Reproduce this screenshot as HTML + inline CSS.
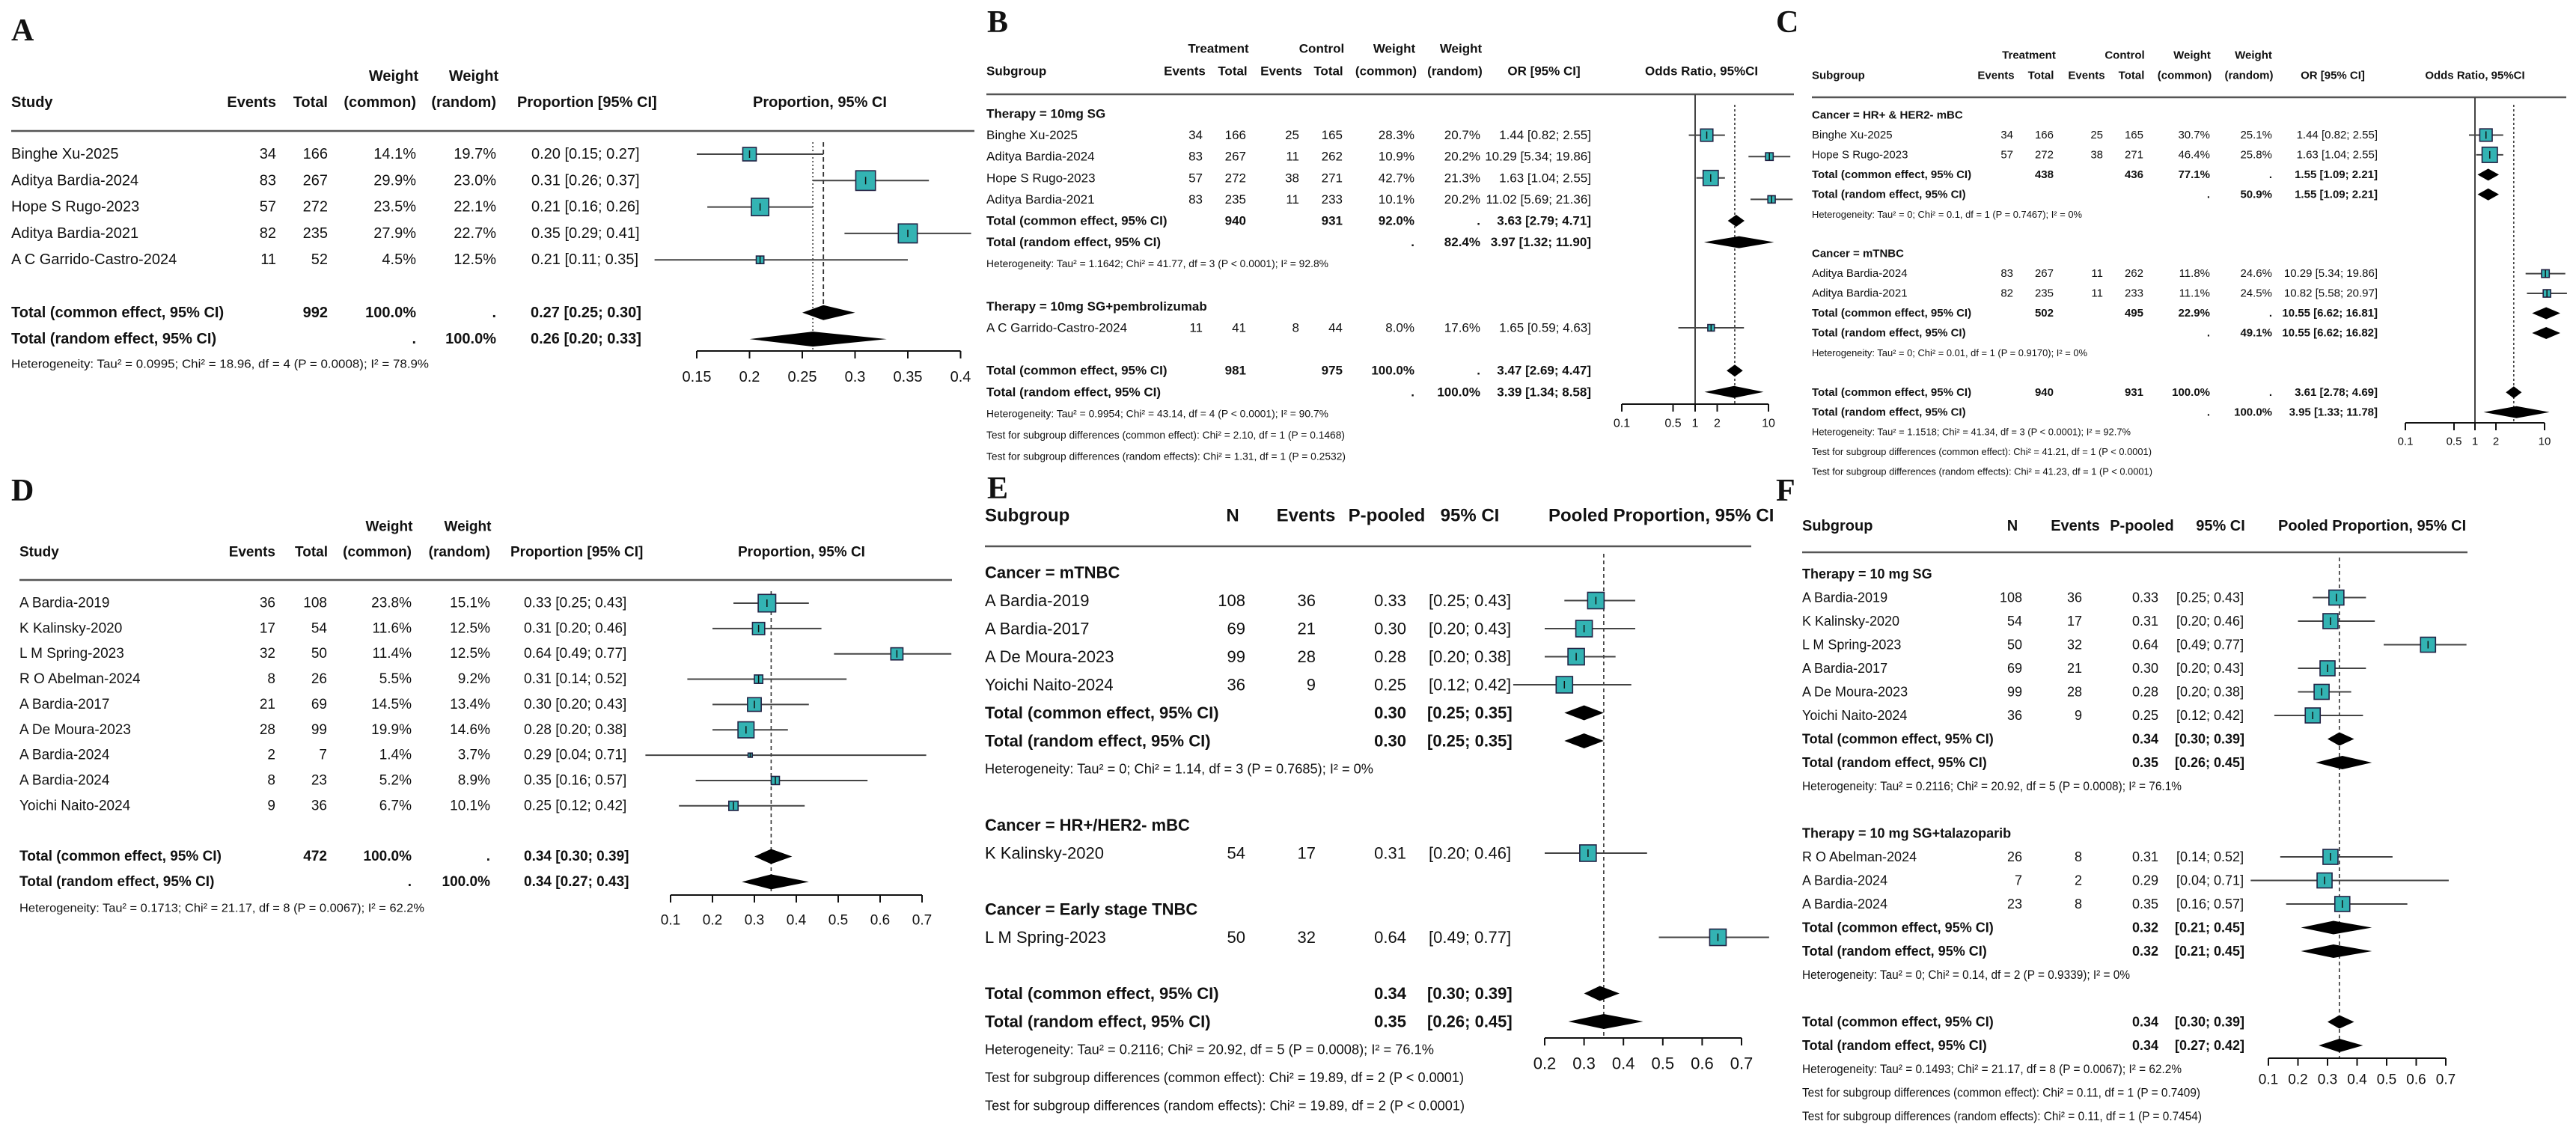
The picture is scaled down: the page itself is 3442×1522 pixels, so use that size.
<!DOCTYPE html>
<html><head><meta charset="utf-8"><title>Forest plots A-F</title>
<style>
html,body{margin:0;padding:0;background:#fff;}
svg{display:block;font-family:"Liberation Sans",Arial,sans-serif;fill:#111;}
</style></head>
<body>
<svg id="fig" width="3442" height="1522" viewBox="0 0 3442 1522" xmlns="http://www.w3.org/2000/svg">
<rect x="0" y="0" width="3442" height="1522" fill="#fff"/>
</svg>
<script>
// ---------- Panel A data ----------
const aStudy=['Binghe Xu-2025','Aditya Bardia-2024','Hope S Rugo-2023','Aditya Bardia-2021','A C Garrido-Castro-2024'];
const aEvents=[34,83,57,82,11];
const aTotal=[166,267,272,235,52];
const aWCommon=[14.1,29.9,23.5,27.9,4.5];
const aWRandom=[19.7,23.0,22.1,22.7,12.5];
const aEst=[0.20,0.31,0.21,0.35,0.21];
const aLo=[0.15,0.26,0.16,0.29,0.11];
const aHi=[0.27,0.37,0.26,0.41,0.35];
const aPoolEst=[0.27,0.26];
const aPoolLo=[0.25,0.20];
const aPoolHi=[0.30,0.33];
const aTicks=[0.15,0.2,0.25,0.3,0.35,0.4];
const aTickLabels=['0.15','0.2','0.25','0.3','0.35','0.4'];
// ---------- Panel B data ----------
const bStudy=['Binghe Xu-2025','Aditya Bardia-2024','Hope S Rugo-2023','Aditya Bardia-2021','A C Garrido-Castro-2024'];
const bTEvents=[34,83,57,83,11];
const bTTotal=[166,267,272,235,41];
const bCEvents=[25,11,38,11,8];
const bCTotal=[165,262,271,233,44];
const bWCommon=[28.3,10.9,42.7,10.1,8.0];
const bWRandom=[20.7,20.2,21.3,20.2,17.6];
const bOR=[1.44,10.29,1.63,11.02,1.65];
const bLo=[0.82,5.34,1.04,5.69,0.59];
const bHi=[2.55,19.86,2.55,21.36,4.63];
const bSubOR=[3.63,3.97];
const bSubLo=[2.79,1.32];
const bSubHi=[4.71,11.90];
const bTotOR=[3.47,3.39];
const bTotLo=[2.69,1.34];
const bTotHi=[4.47,8.58];
const orTicks=[0.1,0.5,1,2,10];
const orTickLabels=['0.1','0.5','1','2','10'];
// ---------- Panel C data ----------
const cStudy=['Binghe Xu-2025','Hope S Rugo-2023','Aditya Bardia-2024','Aditya Bardia-2021'];
const cTEvents=[34,57,83,82];
const cTTotal=[166,272,267,235];
const cCEvents=[25,38,11,11];
const cCTotal=[165,271,262,233];
const cWCommon=[30.7,46.4,11.8,11.1];
const cWRandom=[25.1,25.8,24.6,24.5];
const cOR=[1.44,1.63,10.29,10.82];
const cLo=[0.82,1.04,5.34,5.58];
const cHi=[2.55,2.55,19.86,20.97];
const cSubCommonOR=[1.55,10.55];
const cSubCommonLo=[1.09,6.62];
const cSubCommonHi=[2.21,16.81];
const cSubRandomOR=[1.55,10.55];
const cSubRandomLo=[1.09,6.62];
const cSubRandomHi=[2.21,16.82];
const cTotOR=[3.61,3.95];
const cTotLo=[2.78,1.33];
const cTotHi=[4.69,11.78];
// ---------- Panel D data ----------
const dStudy=['A Bardia-2019','K Kalinsky-2020','L M Spring-2023','R O Abelman-2024','A Bardia-2017','A De Moura-2023','A Bardia-2024','A Bardia-2024','Yoichi Naito-2024'];
const dEvents=[36,17,32,8,21,28,2,8,9];
const dTotal=[108,54,50,26,69,99,7,23,36];
const dWCommon=[23.8,11.6,11.4,5.5,14.5,19.9,1.4,5.2,6.7];
const dWRandom=[15.1,12.5,12.5,9.2,13.4,14.6,3.7,8.9,10.1];
const dEst=[0.33,0.31,0.64,0.31,0.30,0.28,0.29,0.35,0.25];
const dLo=[0.25,0.20,0.49,0.14,0.20,0.20,0.04,0.16,0.12];
const dHi=[0.43,0.46,0.77,0.52,0.43,0.38,0.71,0.57,0.42];
const dPoolEst=[0.34,0.34];
const dPoolLo=[0.30,0.27];
const dPoolHi=[0.39,0.43];
const pTicks=[0.1,0.2,0.3,0.4,0.5,0.6,0.7];
const pTickLabels=['0.1','0.2','0.3','0.4','0.5','0.6','0.7'];
// ---------- Panel E data ----------
const eGroups=['Cancer = mTNBC','Cancer = HR+/HER2- mBC','Cancer = Early stage TNBC'];
const eStudy=['A Bardia-2019','A Bardia-2017','A De Moura-2023','Yoichi Naito-2024','K Kalinsky-2020','L M Spring-2023'];
const eGroup=[0,0,0,0,1,2];
const eN=[108,69,99,36,54,50];
const eEvents=[36,21,28,9,17,32];
const eP=[0.33,0.30,0.28,0.25,0.31,0.64];
const eLo=[0.25,0.20,0.20,0.12,0.20,0.49];
const eHi=[0.43,0.43,0.38,0.42,0.46,0.77];
const eSubEst=[0.30,0.30];
const eSubLo=[0.25,0.25];
const eSubHi=[0.35,0.35];
const eTotEst=[0.34,0.35];
const eTotLo=[0.30,0.26];
const eTotHi=[0.39,0.45];
const eTicks=[0.2,0.3,0.4,0.5,0.6,0.7];
const eTickLabels=['0.2','0.3','0.4','0.5','0.6','0.7'];
// ---------- Panel F data ----------
const fGroups=['Therapy = 10 mg SG','Therapy = 10 mg SG+talazoparib'];
const fStudy=['A Bardia-2019','K Kalinsky-2020','L M Spring-2023','A Bardia-2017','A De Moura-2023','Yoichi Naito-2024','R O Abelman-2024','A Bardia-2024','A Bardia-2024'];
const fGroup=[0,0,0,0,0,0,1,1,1];
const fN=[108,54,50,69,99,36,26,7,23];
const fEvents=[36,17,32,21,28,9,8,2,8];
const fP=[0.33,0.31,0.64,0.30,0.28,0.25,0.31,0.29,0.35];
const fLo=[0.25,0.20,0.49,0.20,0.20,0.12,0.14,0.04,0.16];
const fHi=[0.43,0.46,0.77,0.43,0.38,0.42,0.52,0.71,0.57];
const fSubCommonEst=[0.34,0.32];
const fSubCommonLo=[0.30,0.21];
const fSubCommonHi=[0.39,0.45];
const fSubRandomEst=[0.35,0.32];
const fSubRandomLo=[0.26,0.21];
const fSubRandomHi=[0.45,0.45];
const fTotEst=[0.34,0.34];
const fTotLo=[0.30,0.27];
const fTotHi=[0.39,0.42];

// ---------- helpers ----------
const NS='http://www.w3.org/2000/svg';
const svg=document.getElementById('fig');
const TEAL='#33b3b3';
function grp(name){
  const g=document.createElementNS(NS,'g');
  
  
  svg.appendChild(g);return g;
}
function tx(g,x,y,s,size,bold,anchor,name,len,serif){
  const el=document.createElementNS(NS,'text');
  el.setAttribute('x',x);el.setAttribute('y',y);el.setAttribute('font-size',size);
  if(bold)el.setAttribute('font-weight','bold');
  if(serif)el.setAttribute('font-family','"Liberation Serif",serif');
  el.setAttribute('text-anchor',anchor||'start');
  el.setAttribute('dominant-baseline','central');
  if(len){el.setAttribute('textLength',len);el.setAttribute('lengthAdjust','spacingAndGlyphs');}
  el.textContent=s;
  
  
  g.appendChild(el);return el;
}
function ln(g,x1,y1,x2,y2,col,w,dash,name){
  const el=document.createElementNS(NS,'line');
  el.setAttribute('x1',x1);el.setAttribute('y1',y1);el.setAttribute('x2',x2);el.setAttribute('y2',y2);
  el.setAttribute('stroke',col);el.setAttribute('stroke-width',w);
  if(dash)el.setAttribute('stroke-dasharray',dash);
  
  
  g.appendChild(el);return el;
}
function sq(g,cx,cy,side,name){
  const el=document.createElementNS(NS,'rect');
  el.setAttribute('x',cx-side/2);el.setAttribute('y',cy-side/2);
  el.setAttribute('width',side);el.setAttribute('height',side);
  el.setAttribute('fill',TEAL);el.setAttribute('stroke','#224');el.setAttribute('stroke-width',1.6);
  
  
  g.appendChild(el);
  const t=ln(g,cx,cy-Math.min(5,side/2),cx,cy+Math.min(5,side/2),'#111',1.5,null,name+'-estimate-tick');
  return el;
}
function dia(g,xl,xe,xh,y,h,name){
  const el=document.createElementNS(NS,'polygon');
  el.setAttribute('points',`${xl},${y} ${xe},${y-h} ${xh},${y} ${xe},${y+h}`);
  el.setAttribute('fill','#000');
  
  
  g.appendChild(el);return el;
}
function axis(g,xf,ticks,labels,y,ly,size,name){
  ln(g,xf(ticks[0]),y,xf(ticks[ticks.length-1]),y,'#111',2,null,name+'-line');
  ticks.forEach((t,i)=>{
    ln(g,xf(t),y,xf(t),y+10,'#111',2,null,name+'-tick');
    tx(g,xf(t),ly,labels[i],size,false,'middle',name+'-tick-label');
  });
}
const f2=v=>v.toFixed(2);
const pct=v=>v.toFixed(1)+'%';
const ciT=(e,l,h)=>`${f2(e)} [${f2(l)}; ${f2(h)}]`;
const brT=(l,h)=>`[${f2(l)}; ${f2(h)}]`;

// ---------- Panel A ----------
(function(){
  const g=grp('panel-a');
  const yA=i=>206+i*35.3;
  const xA=v=>931+(v-0.15)*1410;
  const S=20;
  tx(g,15,41,'A',42,true,'start','panel-label-a',null,true);
  tx(g,526,102,'Weight',S,true,'middle','header-weight-common');
  tx(g,633,102,'Weight',S,true,'middle','header-weight-random');
  tx(g,15,137,'Study',S,true,'start','header-study');
  tx(g,369,137,'Events',S,true,'end','header-events');
  tx(g,438,137,'Total',S,true,'end','header-total');
  tx(g,556,137,'(common)',S,true,'end','header-common');
  tx(g,663,137,'(random)',S,true,'end','header-random');
  tx(g,691,137,'Proportion [95% CI]',S,true,'start','header-proportion-ci');
  tx(g,1006,137,'Proportion, 95% CI',S,true,'start','header-plot-title');
  ln(g,15,175,1302,175,'#555',2.5,null,'header-rule');
  ln(g,xA(aPoolEst[1]),190,xA(aPoolEst[1]),469,'#333',1.5,'2,3','random-effect-line');
  ln(g,xA(aPoolEst[0]),190,xA(aPoolEst[0]),418,'#333',1.8,'6,4','common-effect-line');
  aStudy.forEach((s,i)=>{
    const y=yA(i);
    tx(g,15,y,s,S,false,'start','study-name');
    tx(g,369,y,String(aEvents[i]),S,false,'end','events');
    tx(g,438,y,String(aTotal[i]),S,false,'end','total');
    tx(g,556,y,pct(aWCommon[i]),S,false,'end','weight-common');
    tx(g,663,y,pct(aWRandom[i]),S,false,'end','weight-random');
    tx(g,710,y,ciT(aEst[i],aLo[i],aHi[i]),S,false,'start','proportion-ci');
    ln(g,xA(aLo[i]),y,xA(aHi[i]),y,'#444',2,null,'ci-line');
    sq(g,xA(aEst[i]),y,4.8*Math.sqrt(aWCommon[i]),'study-square');
  });
  const totN=aTotal.reduce((a,b)=>a+b,0);
  let y=yA(6);
  tx(g,15,y,'Total (common effect, 95% CI)',S,true,'start','total-common-label');
  tx(g,438,y,String(totN),S,true,'end','total-common-n');
  tx(g,556,y,'100.0%',S,true,'end','total-common-weight');
  tx(g,663,y,'.',S,true,'end','dot');
  tx(g,709,y,ciT(aPoolEst[0],aPoolLo[0],aPoolHi[0]),S,true,'start','total-common-ci');
  dia(g,xA(aPoolLo[0]),xA(aPoolEst[0]),xA(aPoolHi[0]),y,10,'common-diamond');
  y=yA(7);
  tx(g,15,y,'Total (random effect, 95% CI)',S,true,'start','total-random-label');
  tx(g,556,y,'.',S,true,'end','dot');
  tx(g,663,y,'100.0%',S,true,'end','total-random-weight');
  tx(g,709,y,ciT(aPoolEst[1],aPoolLo[1],aPoolHi[1]),S,true,'start','total-random-ci');
  dia(g,xA(aPoolLo[1]),xA(aPoolEst[1]),xA(aPoolHi[1]),y,10,'random-diamond');
  tx(g,15,487,'Heterogeneity: Tau² = 0.0995; Chi² = 18.96, df = 4 (P = 0.0008); I² = 78.9%',16,false,'start','heterogeneity-text',558);
  axis(g,xA,aTicks,aTickLabels,469,504,20,'x-axis-a');
})();

// ---------- Panel B ----------
(function(){
  const g=grp('panel-b');
  const yB=i=>152+i*28.6;
  const xB=v=>2265+Math.log10(v)*98;
  const S=17;
  tx(g,1319,30,'B',42,true,'start','panel-label-b',null,true);
  tx(g,1628,65,'Treatment',S,true,'middle','header-treatment');
  tx(g,1766,65,'Control',S,true,'middle','header-control');
  tx(g,1863,65,'Weight',S,true,'middle','header-weight-common');
  tx(g,1952,65,'Weight',S,true,'middle','header-weight-random');
  tx(g,1318,95,'Subgroup',S,true,'start','header-subgroup');
  tx(g,1583,95,'Events',S,true,'middle','header-t-events');
  tx(g,1647,95,'Total',S,true,'middle','header-t-total');
  tx(g,1712,95,'Events',S,true,'middle','header-c-events');
  tx(g,1775,95,'Total',S,true,'middle','header-c-total');
  tx(g,1852,95,'(common)',S,true,'middle','header-common');
  tx(g,1944,95,'(random)',S,true,'middle','header-random');
  tx(g,2063,95,'OR [95% CI]',S,true,'middle','header-or-ci');
  tx(g,2198,95,'Odds Ratio, 95%CI',S,true,'start','header-plot-title');
  ln(g,1318,126,2397,126,'#555',2.5,null,'header-rule');
  ln(g,xB(1),126,xB(1),540,'#444',2,null,'null-line');
  ln(g,xB(bTotOR[0]),140,xB(bTotOR[0]),540,'#333',1.6,'3,3','pooled-line');
  const orT=(e,l,h)=>`${f2(e)} [${f2(l)}; ${f2(h)}]`;
  function study(i,r){
    const y=yB(r);
    tx(g,1318,y,bStudy[i],S,false,'start','study-name');
    tx(g,1607,y,String(bTEvents[i]),S,false,'end','t-events');
    tx(g,1665,y,String(bTTotal[i]),S,false,'end','t-total');
    tx(g,1736,y,String(bCEvents[i]),S,false,'end','c-events');
    tx(g,1794,y,String(bCTotal[i]),S,false,'end','c-total');
    tx(g,1890,y,pct(bWCommon[i]),S,false,'end','weight-common');
    tx(g,1978,y,pct(bWRandom[i]),S,false,'end','weight-random');
    tx(g,2126,y,orT(bOR[i],bLo[i],bHi[i]),S,false,'end','or-ci');
    ln(g,xB(bLo[i]),y,xB(bHi[i]),y,'#444',2,null,'ci-line');
    sq(g,xB(bOR[i]),y,3.1*Math.sqrt(bWCommon[i]),'study-square');
  }
  function totRow(r,label,tt,ct,wc,wr,e,l,h,h2,name){
    const y=yB(r);
    tx(g,1318,y,label,S,true,'start',name+'-label');
    if(tt)tx(g,1665,y,tt,S,true,'end',name+'-t-total');
    if(ct)tx(g,1794,y,ct,S,true,'end',name+'-c-total');
    tx(g,1890,y,wc,S,true,'end',name+'-weight-common');
    tx(g,1978,y,wr,S,true,'end',name+'-weight-random');
    tx(g,2126,y,orT(e,l,h),S,true,'end',name+'-or-ci');
    dia(g,xB(l),xB(e),xB(h),y,h2,name+'-diamond');
  }
  tx(g,1318,yB(0),'Therapy = 10mg SG',S,true,'start','subgroup-heading');
  [0,1,2,3].forEach((i,k)=>study(i,1+k));
  const sumT=[0,1,2,3].reduce((a,i)=>a+bTTotal[i],0), sumC=[0,1,2,3].reduce((a,i)=>a+bCTotal[i],0);
  const wcs=[0,1,2,3].reduce((a,i)=>a+bWCommon[i],0), wrs=[0,1,2,3].reduce((a,i)=>a+bWRandom[i],0);
  totRow(5,'Total (common effect, 95% CI)',String(sumT),String(sumC),pct(wcs),'.',bSubOR[0],bSubLo[0],bSubHi[0],8,'subgroup-common');
  totRow(6,'Total (random effect, 95% CI)',null,null,'.',pct(wrs),bSubOR[1],bSubLo[1],bSubHi[1],8,'subgroup-random');
  tx(g,1318,yB(7),'Heterogeneity: Tau² = 1.1642; Chi² = 41.77, df = 3 (P < 0.0001); I² = 92.8%',14,false,'start','heterogeneity-text',457);
  tx(g,1318,yB(9),'Therapy = 10mg SG+pembrolizumab',S,true,'start','subgroup-heading');
  study(4,10);
  const allT=bTTotal.reduce((a,b)=>a+b,0), allC=bCTotal.reduce((a,b)=>a+b,0);
  totRow(12,'Total (common effect, 95% CI)',String(allT),String(allC),'100.0%','.',bTotOR[0],bTotLo[0],bTotHi[0],8,'overall-common');
  totRow(13,'Total (random effect, 95% CI)',null,null,'.','100.0%',bTotOR[1],bTotLo[1],bTotHi[1],8,'overall-random');
  tx(g,1318,yB(14),'Heterogeneity: Tau² = 0.9954; Chi² = 43.14, df = 4 (P < 0.0001); I² = 90.7%',14,false,'start','heterogeneity-text',457);
  tx(g,1318,yB(15),'Test for subgroup differences (common effect): Chi² = 2.10, df = 1 (P = 0.1468)',14,false,'start','subgroup-test-text',479);
  tx(g,1318,yB(16),'Test for subgroup differences (random effects): Chi² = 1.31, df = 1 (P = 0.2532)',14,false,'start','subgroup-test-text',480);
  axis(g,xB,orTicks,orTickLabels,540,566,16,'x-axis-b');
})();

// ---------- Panel C ----------
(function(){
  const g=grp('panel-c');
  const yC=i=>154+i*26.45;
  const xC=v=>3307+Math.log10(v)*93;
  const S=15;
  tx(g,2373,30,'C',42,true,'start','panel-label-c',null,true);
  tx(g,2711,74,'Treatment',S,true,'middle','header-treatment');
  tx(g,2839,74,'Control',S,true,'middle','header-control');
  tx(g,2929,74,'Weight',S,true,'middle','header-weight-common');
  tx(g,3011,74,'Weight',S,true,'middle','header-weight-random');
  tx(g,2421,101,'Subgroup',S,true,'start','header-subgroup');
  tx(g,2667,101,'Events',S,true,'middle','header-t-events');
  tx(g,2727,101,'Total',S,true,'middle','header-t-total');
  tx(g,2788,101,'Events',S,true,'middle','header-c-events');
  tx(g,2848,101,'Total',S,true,'middle','header-c-total');
  tx(g,2919,101,'(common)',S,true,'middle','header-common');
  tx(g,3005,101,'(random)',S,true,'middle','header-random');
  tx(g,3117,101,'OR [95% CI]',S,true,'middle','header-or-ci');
  tx(g,3307,101,'Odds Ratio, 95%CI',S,true,'middle','header-plot-title');
  ln(g,2421,130,3429,130,'#555',2.5,null,'header-rule');
  ln(g,xC(1),130,xC(1),565,'#444',2,null,'null-line');
  ln(g,xC(cTotOR[0]),140,xC(cTotOR[0]),565,'#333',1.5,'3,3','pooled-line');
  function study(i,r){
    const y=yC(r);
    tx(g,2421,y,cStudy[i],S,false,'start','study-name');
    tx(g,2690,y,String(cTEvents[i]),S,false,'end','t-events');
    tx(g,2744,y,String(cTTotal[i]),S,false,'end','t-total');
    tx(g,2810,y,String(cCEvents[i]),S,false,'end','c-events');
    tx(g,2864,y,String(cCTotal[i]),S,false,'end','c-total');
    tx(g,2953,y,pct(cWCommon[i]),S,false,'end','weight-common');
    tx(g,3036,y,pct(cWRandom[i]),S,false,'end','weight-random');
    tx(g,3177,y,ciT(cOR[i],cLo[i],cHi[i]),S,false,'end','or-ci');
    ln(g,xC(cLo[i]),y,xC(cHi[i]),y,'#444',2,null,'ci-line');
    sq(g,xC(cOR[i]),y,3.0*Math.sqrt(cWCommon[i]),'study-square');
  }
  function totRow(r,label,tt,ct,wc,wr,e,l,h,name){
    const y=yC(r);
    tx(g,2421,y,label,S,true,'start',name+'-label');
    if(tt)tx(g,2744,y,tt,S,true,'end',name+'-t-total');
    if(ct)tx(g,2864,y,ct,S,true,'end',name+'-c-total');
    tx(g,2953,y,wc,S,true,'end',name+'-weight-common');
    tx(g,3036,y,wr,S,true,'end',name+'-weight-random');
    tx(g,3177,y,ciT(e,l,h),S,true,'end',name+'-or-ci');
    dia(g,xC(l),xC(e),xC(h),y,8,name+'-diamond');
  }
  const groups=[['Cancer = HR+ & HER2- mBC',[0,1],'50.9%','Heterogeneity: Tau² = 0; Chi² = 0.1, df = 1 (P = 0.7467); I² = 0%',361],
                ['Cancer = mTNBC',[2,3],'49.1%','Heterogeneity: Tau² = 0; Chi² = 0.01, df = 1 (P = 0.9170); I² = 0%',368]];
  groups.forEach((gr,k)=>{
    const base=k*7;
    tx(g,2421,yC(base),gr[0],S,true,'start','subgroup-heading');
    gr[1].forEach((i,j)=>study(i,base+1+j));
    const st=gr[1].reduce((a,i)=>a+cTTotal[i],0), sc=gr[1].reduce((a,i)=>a+cCTotal[i],0);
    const wc=gr[1].reduce((a,i)=>a+cWCommon[i],0);
    totRow(base+3,'Total (common effect, 95% CI)',String(st),String(sc),pct(wc),'.',cSubCommonOR[k],cSubCommonLo[k],cSubCommonHi[k],'subgroup-common');
    totRow(base+4,'Total (random effect, 95% CI)',null,null,'.',gr[2],cSubRandomOR[k],cSubRandomLo[k],cSubRandomHi[k],'subgroup-random');
    tx(g,2421,yC(base+5),gr[3],13,false,'start','heterogeneity-text',gr[4]);
  });
  totRow(14,'Total (common effect, 95% CI)','940','931','100.0%','.',cTotOR[0],cTotLo[0],cTotHi[0],'overall-common');
  totRow(15,'Total (random effect, 95% CI)',null,null,'.','100.0%',cTotOR[1],cTotLo[1],cTotHi[1],'overall-random');
  tx(g,2421,yC(16),'Heterogeneity: Tau² = 1.1518; Chi² = 41.34, df = 3 (P < 0.0001); I² = 92.7%',13,false,'start','heterogeneity-text',426);
  tx(g,2421,yC(17),'Test for subgroup differences (common effect): Chi² = 41.21, df = 1 (P < 0.0001)',13,false,'start','subgroup-test-text',454);
  tx(g,2421,yC(18),'Test for subgroup differences (random effects): Chi² = 41.23, df = 1 (P < 0.0001)',13,false,'start','subgroup-test-text',455);
  axis(g,xC,orTicks,orTickLabels,565,590,15,'x-axis-c');
})();

// ---------- Panel D ----------
(function(){
  const g=grp('panel-d');
  const yD=i=>806+i*33.85;
  const xD=v=>896+(v-0.1)*560;
  const S=19;
  tx(g,15,656,'D',42,true,'start','panel-label-d',null,true);
  tx(g,520,704,'Weight',S,true,'middle','header-weight-common');
  tx(g,625,704,'Weight',S,true,'middle','header-weight-random');
  tx(g,26,738,'Study',S,true,'start','header-study');
  tx(g,368,738,'Events',S,true,'end','header-events');
  tx(g,438,738,'Total',S,true,'end','header-total');
  tx(g,550,738,'(common)',S,true,'end','header-common');
  tx(g,655,738,'(random)',S,true,'end','header-random');
  tx(g,682,738,'Proportion [95% CI]',S,true,'start','header-proportion-ci');
  tx(g,986,738,'Proportion, 95% CI',S,true,'start','header-plot-title');
  ln(g,26,775,1272,775,'#555',2.5,null,'header-rule');
  ln(g,xD(dPoolEst[0]),790,xD(dPoolEst[0]),1196,'#333',1.6,'5,4','pooled-line');
  dStudy.forEach((s,i)=>{
    const y=yD(i);
    tx(g,26,y,s,S,false,'start','study-name');
    tx(g,368,y,String(dEvents[i]),S,false,'end','events');
    tx(g,437,y,String(dTotal[i]),S,false,'end','total');
    tx(g,550,y,pct(dWCommon[i]),S,false,'end','weight-common');
    tx(g,655,y,pct(dWRandom[i]),S,false,'end','weight-random');
    tx(g,700,y,ciT(dEst[i],dLo[i],dHi[i]),S,false,'start','proportion-ci');
    ln(g,xD(dLo[i]),y,xD(dHi[i]),y,'#444',2,null,'ci-line');
    sq(g,xD(dEst[i]),y,4.8*Math.sqrt(dWCommon[i]),'study-square');
  });
  const totN=dTotal.reduce((a,b)=>a+b,0);
  let y=yD(10);
  tx(g,26,y,'Total (common effect, 95% CI)',S,true,'start','total-common-label');
  tx(g,437,y,String(totN),S,true,'end','total-common-n');
  tx(g,550,y,'100.0%',S,true,'end','total-common-weight');
  tx(g,655,y,'.',S,true,'end','dot');
  tx(g,700,y,ciT(dPoolEst[0],dPoolLo[0],dPoolHi[0]),S,true,'start','total-common-ci');
  dia(g,xD(dPoolLo[0]),xD(dPoolEst[0]),xD(dPoolHi[0]),y,10,'common-diamond');
  y=yD(11);
  tx(g,26,y,'Total (random effect, 95% CI)',S,true,'start','total-random-label');
  tx(g,550,y,'.',S,true,'end','dot');
  tx(g,655,y,'100.0%',S,true,'end','total-random-weight');
  tx(g,700,y,ciT(dPoolEst[1],dPoolLo[1],dPoolHi[1]),S,true,'start','total-random-ci');
  dia(g,xD(dPoolLo[1]),xD(dPoolEst[1]),xD(dPoolHi[1]),y,10,'random-diamond');
  tx(g,26,1214,'Heterogeneity: Tau² = 0.1713; Chi² = 21.17, df = 8 (P = 0.0067); I² = 62.2%',16,false,'start','heterogeneity-text',541);
  axis(g,xD,pTicks,pTickLabels,1196,1230,19,'x-axis-d');
})();

// ---------- Panel E ----------
(function(){
  const g=grp('panel-e');
  const yE=i=>765+i*37.5;
  const xE=v=>2064+(v-0.2)*526;
  const S=22;
  tx(g,1319,653,'E',42,true,'start','panel-label-e',null,true);
  tx(g,1316,689,'Subgroup',24,true,'start','header-subgroup');
  tx(g,1647,689,'N',24,true,'middle','header-n');
  tx(g,1745,689,'Events',24,true,'middle','header-events');
  tx(g,1853,689,'P-pooled',24,true,'middle','header-p-pooled');
  tx(g,1964,689,'95% CI',24,true,'middle','header-ci');
  tx(g,2069,689,'Pooled Proportion, 95% CI',24,true,'start','header-plot-title');
  ln(g,1316,730,2340,730,'#555',2.5,null,'header-rule');
  ln(g,xE(eTotEst[1]),740,xE(eTotEst[1]),1387,'#333',1.6,'5,4','pooled-line');
  function study(i,r){
    const y=yE(r);
    tx(g,1316,y,eStudy[i],S,false,'start','study-name');
    tx(g,1664,y,String(eN[i]),S,false,'end','n');
    tx(g,1758,y,String(eEvents[i]),S,false,'end','events');
    tx(g,1879,y,f2(eP[i]),S,false,'end','p-pooled');
    tx(g,1909,y,brT(eLo[i],eHi[i]),S,false,'start','ci');
    ln(g,xE(eLo[i]),y,xE(eHi[i]),y,'#444',2,null,'ci-line');
    sq(g,xE(eP[i]),y,22,'study-square');
  }
  function totRow(r,label,e,l,h,name){
    const y=yE(r);
    tx(g,1316,y,label,S,true,'start',name+'-label');
    tx(g,1879,y,f2(e),S,true,'end',name+'-estimate');
    tx(g,1907,y,brT(l,h),S,true,'start',name+'-ci');
    dia(g,xE(l),xE(e),xE(h),y,10,name+'-diamond');
  }
  let r=0;
  eGroups.forEach((name,k)=>{
    tx(g,1316,yE(r),name,S,true,'start','subgroup-heading');
    r++;
    eStudy.forEach((s,i)=>{ if(eGroup[i]===k){study(i,r);r++;} });
    if(k===0){
      totRow(r,'Total (common effect, 95% CI)',eSubEst[0],eSubLo[0],eSubHi[0],'subgroup-common');r++;
      totRow(r,'Total (random effect, 95% CI)',eSubEst[1],eSubLo[1],eSubHi[1],'subgroup-random');r++;
      tx(g,1316,yE(r),'Heterogeneity: Tau² = 0; Chi² = 1.14, df = 3 (P = 0.7685); I² = 0%',18,false,'start','heterogeneity-text',519);r++;
    }
    r++;
  });
  totRow(15,'Total (common effect, 95% CI)',eTotEst[0],eTotLo[0],eTotHi[0],'overall-common');
  totRow(16,'Total (random effect, 95% CI)',eTotEst[1],eTotLo[1],eTotHi[1],'overall-random');
  tx(g,1316,yE(17),'Heterogeneity: Tau² = 0.2116; Chi² = 20.92, df = 5 (P = 0.0008); I² = 76.1%',18,false,'start','heterogeneity-text',600);
  tx(g,1316,yE(18),'Test for subgroup differences (common effect): Chi² = 19.89, df = 2 (P < 0.0001)',18,false,'start','subgroup-test-text',640);
  tx(g,1316,yE(19),'Test for subgroup differences (random effects): Chi² = 19.89, df = 2 (P < 0.0001)',18,false,'start','subgroup-test-text',641);
  axis(g,xE,eTicks,eTickLabels,1387,1421,22,'x-axis-e');
})();

// ---------- Panel F ----------
(function(){
  const g=grp('panel-f');
  const yF=i=>767+i*31.5;
  const xF=v=>3031+(v-0.1)*395;
  const S=18;
  tx(g,2373,656,'F',42,true,'start','panel-label-f',null,true);
  tx(g,2408,703,'Subgroup',20,true,'start','header-subgroup');
  tx(g,2689,703,'N',20,true,'middle','header-n');
  tx(g,2773,703,'Events',20,true,'middle','header-events');
  tx(g,2862,703,'P-pooled',20,true,'middle','header-p-pooled');
  tx(g,2967,703,'95% CI',20,true,'middle','header-ci');
  tx(g,3044,703,'Pooled Proportion, 95% CI',20,true,'start','header-plot-title');
  ln(g,2408,738,3297,738,'#555',2.5,null,'header-rule');
  ln(g,xF(fTotEst[0]),745,xF(fTotEst[0]),1414,'#333',1.6,'5,4','pooled-line');
  function study(i,r){
    const y=yF(r);
    tx(g,2408,y,fStudy[i],S,false,'start','study-name');
    tx(g,2702,y,String(fN[i]),S,false,'end','n');
    tx(g,2782,y,String(fEvents[i]),S,false,'end','events');
    tx(g,2884,y,f2(fP[i]),S,false,'end','p-pooled');
    tx(g,2908,y,brT(fLo[i],fHi[i]),S,false,'start','ci');
    ln(g,xF(fLo[i]),y,xF(fHi[i]),y,'#444',2,null,'ci-line');
    sq(g,xF(fP[i]),y,20,'study-square');
  }
  function totRow(r,label,e,l,h,name){
    const y=yF(r);
    tx(g,2408,y,label,S,true,'start',name+'-label');
    tx(g,2884,y,f2(e),S,true,'end',name+'-estimate');
    tx(g,2906,y,brT(l,h),S,true,'start',name+'-ci');
    dia(g,xF(l),xF(e),xF(h),y,9,name+'-diamond');
  }
  const hets=[['Heterogeneity: Tau² = 0.2116; Chi² = 20.92, df = 5 (P = 0.0008); I² = 76.1%',507],
              ['Heterogeneity: Tau² = 0; Chi² = 0.14, df = 2 (P = 0.9339); I² = 0%',438]];
  let r=0;
  fGroups.forEach((name,k)=>{
    tx(g,2408,yF(r),name,S,true,'start','subgroup-heading');
    r++;
    fStudy.forEach((s,i)=>{ if(fGroup[i]===k){study(i,r);r++;} });
    totRow(r,'Total (common effect, 95% CI)',fSubCommonEst[k],fSubCommonLo[k],fSubCommonHi[k],'subgroup-common');r++;
    totRow(r,'Total (random effect, 95% CI)',fSubRandomEst[k],fSubRandomLo[k],fSubRandomHi[k],'subgroup-random');r++;
    tx(g,2408,yF(r),hets[k][0],17,false,'start','heterogeneity-text',hets[k][1]);r++;
    r++;
  });
  totRow(19,'Total (common effect, 95% CI)',fTotEst[0],fTotLo[0],fTotHi[0],'overall-common');
  totRow(20,'Total (random effect, 95% CI)',fTotEst[1],fTotLo[1],fTotHi[1],'overall-random');
  tx(g,2408,yF(21),'Heterogeneity: Tau² = 0.1493; Chi² = 21.17, df = 8 (P = 0.0067); I² = 62.2%',17,false,'start','heterogeneity-text',507);
  tx(g,2408,yF(22),'Test for subgroup differences (common effect): Chi² = 0.11, df = 1 (P = 0.7409)',17,false,'start','subgroup-test-text',532);
  tx(g,2408,yF(23),'Test for subgroup differences (random effects): Chi² = 0.11, df = 1 (P = 0.7454)',17,false,'start','subgroup-test-text',534);
  axis(g,xF,pTicks,pTickLabels,1414,1443,19,'x-axis-f');
})();
</script>
</body></html>
